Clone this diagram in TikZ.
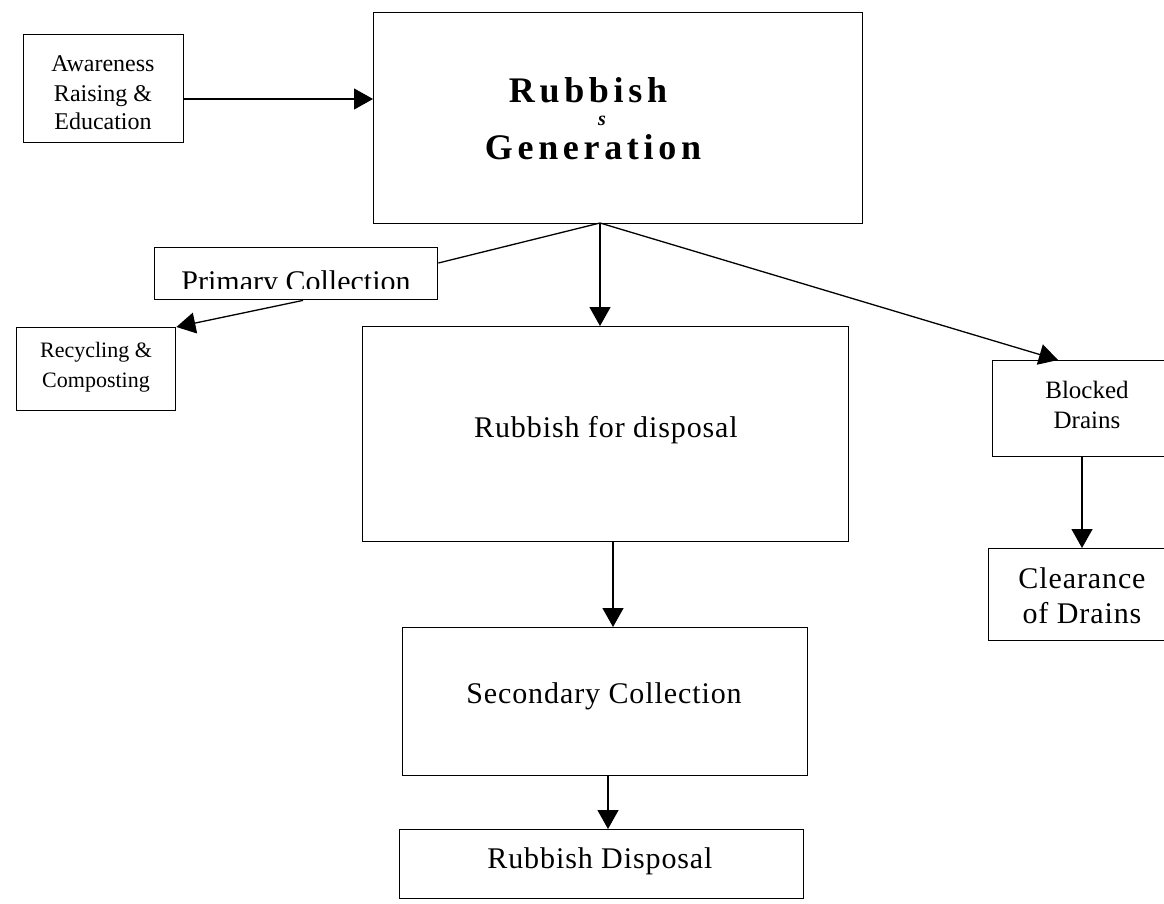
\documentclass[tikz,border=0pt]{standalone}
\usepackage{fontspec}
\setmainfont{Liberation Serif}
\usetikzlibrary{arrows.meta}

\begin{document}
\begin{tikzpicture}[x=1pt, y=-1pt,
  box/.style={draw=black, line width=1.4pt, rectangle, inner sep=0pt, anchor=north west},
  link/.style={draw=black, line width=1.3pt},
  flow/.style={link, -{Triangle[length=19pt, width=21pt]}},
  lbl/.style={anchor=base, inner sep=0pt, text=black},
]
% page frame
\path[use as bounding box] (0,0) rectangle (1164,904);
\fill[white] (0,0) rectangle (1164,904);
\clip (0,0) rectangle (1164,904);

% boxes
\node[box, minimum width=160pt, minimum height=108pt] (aware) at (23,34) {};
\node[box, minimum width=489pt, minimum height=211pt] (gen)   at (373,12) {};
\node[box, minimum width=283pt, minimum height=52pt]  (prim)  at (154,247) {};
\node[box, minimum width=159pt, minimum height=83pt]  (recyc) at (16,327) {};
\node[box, minimum width=486pt, minimum height=215pt] (disp)  at (362,326) {};
\node[box, minimum width=405pt, minimum height=148pt] (sec)   at (402,627) {};
\node[box, minimum width=404pt, minimum height=69pt]  (rdisp) at (399,829) {};
\node[box, minimum width=193pt, minimum height=96pt]  (blk)   at (992,360) {};
\node[box, minimum width=190pt, minimum height=92pt]  (clr)   at (988,548) {};

% texts
\begin{scope}[font=\fontsize{24}{29}\selectfont]
  \node[lbl] (t-aw1) at (103,72)  {Awareness};
  \node[lbl] (t-aw2) at (103,102) {Raising \&};
  \node[lbl] (t-aw3) at (103,130) {Education};
\end{scope}
\begin{scope}[font=\fontsize{36}{44}\bfseries\addfontfeature{LetterSpace=13}\selectfont]
  \node[lbl] (t-gen1) at (588,103) {Rubbish};
  \node[lbl] (t-gen2) at (593,160) {Generation};
\end{scope}
\node[lbl, font=\fontsize{20}{24}\bfseries\itshape\selectfont] (t-s) at (602,126) {s};

\begin{scope}
  \clip (154,247) rectangle (437,288);
  \node[lbl, font=\fontsize{30}{36}\selectfont] (t-prim) at (296,291) {Primary Collection};
\end{scope}

\begin{scope}[font=\fontsize{22}{30}\selectfont]
  \node[lbl] (t-rc1) at (96,357) {Recycling \&};
  \node[lbl] (t-rc2) at (96,387) {Composting};
\end{scope}

\begin{scope}[font=\fontsize{30}{36}\addfontfeature{LetterSpace=3}\selectfont]
  \node[lbl] (t-disp) at (606,437) {Rubbish for disposal};
  \node[lbl] (t-sec)  at (604,703) {Secondary Collection};
  \node[lbl] (t-rd)   at (600,868) {Rubbish Disposal};
  \node[lbl] (t-cl1)  at (1082,588) {Clearance};
  \node[lbl] (t-cl2)  at (1082,623) {of Drains};
\end{scope}
\begin{scope}[font=\fontsize{25}{30}\selectfont]
  \node[lbl] (t-bl1) at (1087,398) {Blocked};
  \node[lbl] (t-bl2) at (1087,428) {Drains};
\end{scope}

% connector anchor points
\coordinate (hub) at (600,223);
\coordinate (awy) at (0,99);
\coordinate (primy) at (0,263);
\coordinate (primx) at (303,0);
\coordinate (blkx) at (1058,0);
\coordinate (dispx) at (613,0);
\coordinate (secx) at (608,0);
\coordinate (blkdx) at (1082,0);

% connectors
\draw[flow] (aware.east |- awy) -- (gen.west |- awy);
\draw[link] (hub) -- (prim.east |- primy);
\draw[flow] (prim.south -| primx) -- (recyc.north east);
\draw[flow] (hub) -- (hub |- disp.north);
\draw[flow] (hub) -- (blk.north -| blkx);
\draw[flow] (disp.south -| dispx) -- (sec.north -| dispx);
\draw[flow] (sec.south -| secx) -- (rdisp.north -| secx);
\draw[flow] (blk.south -| blkdx) -- (clr.north -| blkdx);
\end{tikzpicture}
\end{document}
